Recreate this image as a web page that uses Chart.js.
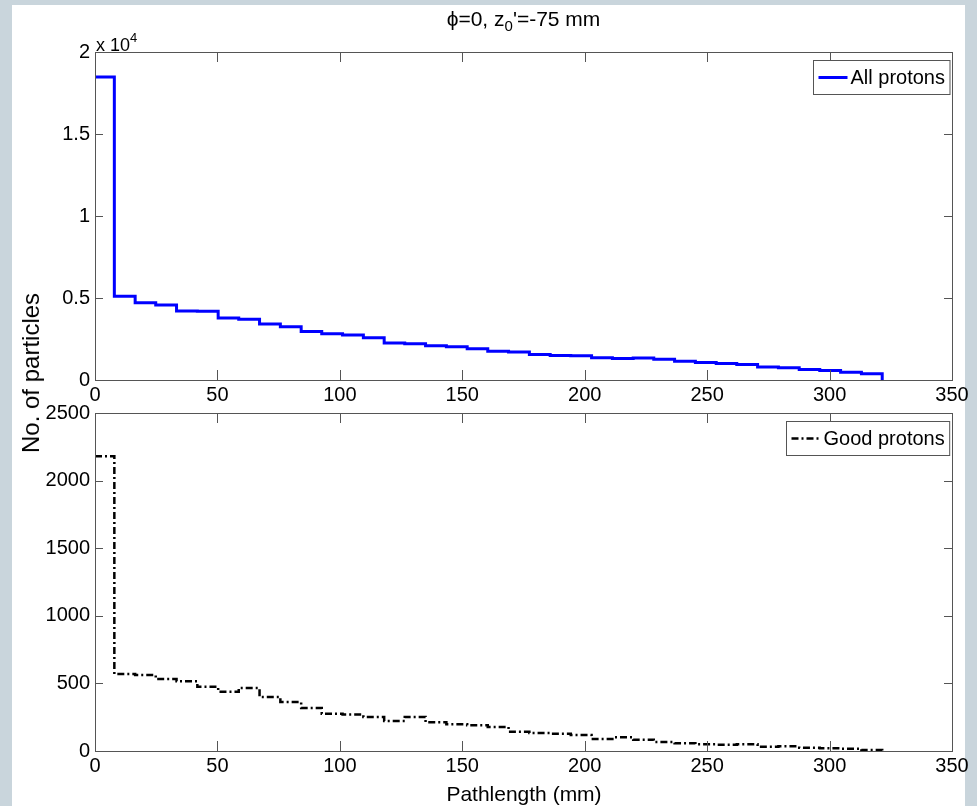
<!DOCTYPE html>
<html>
<head>
<meta charset="utf-8">
<script src="https://cdn.jsdelivr.net/npm/chart.js@4.4.1/dist/chart.umd.min.js"></script>
<style>
  html, body { margin: 0; padding: 0; }
  body {
    width: 977px; height: 806px; position: relative; overflow: hidden;
    background: #c9d5dc;
    font-family: "Liberation Sans", Arial, sans-serif; color: #000;
  }
  #fig { position: absolute; left: 12px; top: 5px; width: 953px; height: 801px; background: #fff; }
  canvas { position: absolute; left: 0; top: 0; }
  .txt { position: absolute; white-space: nowrap; }
  #title { left: 95px; width: 857px; top: 6px; text-align: center; font-size: 21px; line-height: 26px; }
  #title sub { font-size: 15px; vertical-align: -5px; line-height: 0; }
  #expo { left: 96px; top: 35px; font-size: 18px; line-height: 20px; }
  #expo sup { font-size: 13px; vertical-align: 9px; line-height: 0; }
  #ylab { left: 31px; top: 373px; font-size: 24px; transform: translate(-50%, -50%) rotate(-90deg); }
  #xlab { left: 524px; top: 782px; font-size: 21px; transform: translateX(-50%); }
</style>
</head>
<body>
<div id="fig"></div>
<canvas id="top" width="977" height="806"></canvas>
<canvas id="bottom" width="977" height="806"></canvas>
<div class="txt" id="title">&#981;=0, z<sub>0</sub>'=-75 mm</div>
<div class="txt" id="expo">x 10<sup>4</sup></div>
<div class="txt" id="ylab">No. of particles</div>
<div class="txt" id="xlab">Pathlength (mm)</div>
<script>
// histogram bin edges along the path (mm), shared by both panels
var binEdges = [0, 7.9, 16.4, 24.8, 33.3, 41.8, 50.3, 58.7, 67.2, 75.7, 84.2, 92.6,
  101.1, 109.6, 118.1, 126.5, 135.0, 143.5, 152.0, 160.4, 168.9, 177.4, 185.9, 194.3,
  202.8, 211.3, 219.8, 228.2, 236.7, 245.2, 253.7, 262.1, 270.6, 279.1, 287.6, 296.0,
  304.5, 313.0, 321.5];

// counts per bin
var allProtons = [18480, 5100, 4715, 4570, 4205, 4190, 3777, 3697, 3410, 3250, 2963, 2823,
  2737, 2578, 2250, 2212, 2090, 2028, 1906, 1760, 1700, 1560, 1500, 1480, 1360, 1315,
  1335, 1270, 1150, 1070, 1010, 950, 800, 745, 640, 580, 475, 380];
var goodProtons = [2180, 570, 562, 532, 516, 475, 438, 466, 400, 362, 318, 276,
  270, 252, 222, 252, 212, 198, 190, 178, 143, 133, 128, 118, 89, 101,
  84, 67, 57, 50, 47, 50, 32, 35, 24, 20, 17, 7];

var xRange = [0, 350];
var xStep = 50;
var topRange = [0, 20000];
var topStep = 5000;
var bottomRange = [0, 2500];
var bottomStep = 500;

var FONT = { family: '"Liberation Sans", Arial, sans-serif', size: 20 };
var AXIS = '#555';

// stairs outline: one point per bin start, then the last edge and the drop to zero
function stairs(edges, counts) {
  var pts = [];
  for (var i = 0; i < counts.length; i++) {
    pts.push({ x: edges[i], y: counts[i] });
  }
  var last = edges[counts.length];
  pts.push({ x: last, y: counts[counts.length - 1] });
  pts.push({ x: last, y: 0 });
  return pts;
}

// box around the axes, inward tick marks on all four sides, legend in the corner
var framePlugin = {
  id: 'frame',
  afterDatasetsDraw: function (chart) {
    var a = chart.chartArea;
    var ctx = chart.ctx;
    var xs = chart.scales.x;
    var ys = chart.scales.y;
    ctx.save();
    ctx.strokeStyle = AXIS;
    ctx.lineWidth = 1;
    ctx.beginPath();
    xs.ticks.forEach(function (t) {
      var px = Math.round(xs.getPixelForValue(t.value)) + 0.5;
      ctx.moveTo(px, a.bottom);
      ctx.lineTo(px, a.bottom - 10);
      ctx.moveTo(px, a.top);
      ctx.lineTo(px, a.top + 10);
    });
    ys.ticks.forEach(function (t) {
      var py = Math.round(ys.getPixelForValue(t.value)) + 0.5;
      ctx.moveTo(a.left, py);
      ctx.lineTo(a.left + 8, py);
      ctx.moveTo(a.right, py);
      ctx.lineTo(a.right - 8, py);
    });
    ctx.stroke();
    ctx.strokeRect(Math.round(a.left) + 0.5, Math.round(a.top) + 0.5,
      Math.round(a.right - a.left), Math.round(a.bottom - a.top));

    // legend
    var ds = chart.data.datasets[0];
    ctx.font = FONT.size + 'px ' + FONT.family;
    var tw = ctx.measureText(ds.label).width;
    var w = 5 + 29 + 3 + tw + 5;
    var h = 34;
    var x0 = Math.round(a.right - 3 - w) + 0.5;
    var y0 = Math.round(a.top + 8) + 0.5;
    ctx.fillStyle = '#fff';
    ctx.fillRect(x0, y0, w, h);
    ctx.strokeStyle = AXIS;
    ctx.lineWidth = 1;
    ctx.strokeRect(x0, y0, w, h);
    ctx.beginPath();
    ctx.strokeStyle = ds.borderColor;
    ctx.lineWidth = ds.borderWidth;
    ctx.setLineDash(ds.borderDash || []);
    ctx.moveTo(x0 + 5, y0 + h / 2);
    ctx.lineTo(x0 + 34, y0 + h / 2);
    ctx.stroke();
    ctx.setLineDash([]);
    ctx.fillStyle = '#000';
    ctx.textBaseline = 'middle';
    ctx.fillText(ds.label, x0 + 37, y0 + h / 2 + 1);
    ctx.restore();
  }
};

function makePanel(canvasId, dataset, yRange, yStep, padTop, plotBottom, yFormat) {
  var xHeight = 40;
  return new Chart(document.getElementById(canvasId), {
    type: 'line',
    data: { datasets: [dataset] },
    options: {
      responsive: false,
      animation: false,
      events: [],
      layout: { padding: { left: 0, right: 25, top: padTop, bottom: 806 - plotBottom - xHeight } },
      plugins: { legend: { display: false }, tooltip: { enabled: false } },
      scales: {
        x: {
          type: 'linear',
          min: xRange[0],
          max: xRange[1],
          grid: { display: false, drawTicks: false },
          border: { display: false },
          ticks: { stepSize: xStep, autoSkip: false, maxRotation: 0, padding: 3, color: '#000', font: FONT },
          afterFit: function (s) { s.height = xHeight; }
        },
        y: {
          min: yRange[0],
          max: yRange[1],
          grid: { display: false, drawTicks: false },
          border: { display: false },
          ticks: { stepSize: yStep, padding: 5, color: '#000', font: FONT, callback: yFormat },
          afterFit: function (s) { s.width = 95; }
        }
      }
    },
    plugins: [framePlugin]
  });
}

// Chart.js 'before': horizontal run first, vertical jump at the next edge
makePanel('top', {
  label: 'All protons',
  data: stairs(binEdges, allProtons),
  stepped: 'before',
  borderColor: '#0000ff',
  borderWidth: 3,
  pointRadius: 0,
  fill: false
}, topRange, topStep, 52, 380, function (v) { return v / 10000; });

makePanel('bottom', {
  label: 'Good protons',
  data: stairs(binEdges, goodProtons),
  stepped: 'before',
  borderColor: '#000000',
  borderWidth: 2.5,
  borderDash: [7, 3, 2, 3],
  pointRadius: 0,
  fill: false
}, bottomRange, bottomStep, 413, 751, function (v) { return v; });
</script>
</body>
</html>
